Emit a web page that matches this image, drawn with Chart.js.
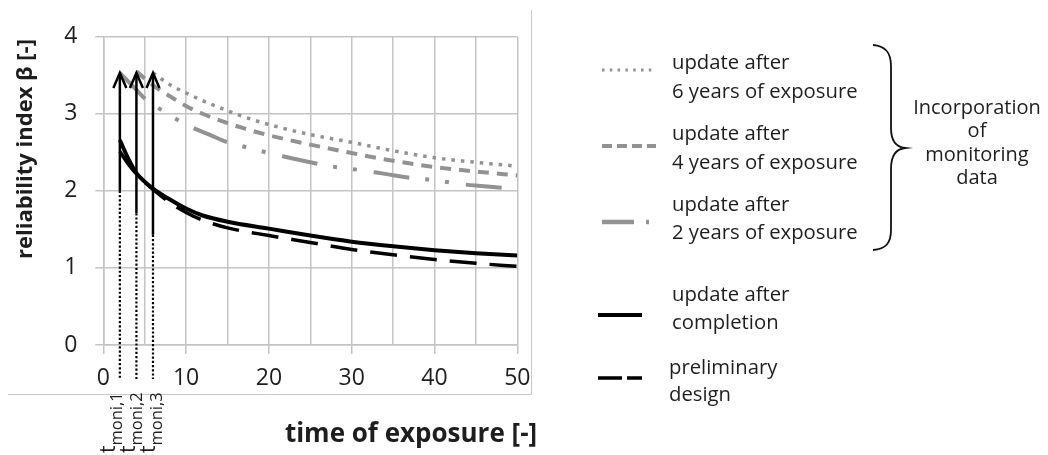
<!DOCTYPE html>
<html>
<head>
<meta charset="utf-8">
<script src="https://cdn.jsdelivr.net/npm/chart.js@4.4.1/dist/chart.umd.min.js"></script>
<style>
html, body { margin: 0; padding: 0; background: #fff; }
canvas { display: block; }
</style>
</head>
<body>
<canvas id="reliabilityChart" width="1048" height="455"></canvas>
<script>
/* data */

const tPrelim = [2, 3, 4, 5, 6, 8, 10, 12, 15, 20, 25, 30, 35, 40, 45, 50];
const betaPrelim = [2.51, 2.35, 2.22, 2.11, 2.02, 1.85, 1.72, 1.62, 1.52, 1.42, 1.33, 1.24, 1.17, 1.11, 1.06, 1.02];

const tCompletion = [2, 3, 4, 5, 6, 8, 10, 12, 15, 20, 25, 30, 35, 40, 45, 50];
const betaCompletion = [2.66, 2.42, 2.23, 2.12, 2.03, 1.89, 1.77, 1.68, 1.6, 1.51, 1.42, 1.34, 1.28, 1.23, 1.19, 1.16];

const tUpdate2 = [2, 3, 4, 5, 7, 9, 11, 13, 15, 17.5, 20, 22.5, 25, 28, 31, 34, 37, 40, 43, 46, 50];
const betaUpdate2 = [3.53, 3.42, 3.31, 3.2, 3.05, 2.92, 2.81, 2.72, 2.63, 2.56, 2.49, 2.43, 2.37, 2.31, 2.27, 2.22, 2.17, 2.14, 2.09, 2.06, 2.02];

const tUpdate4 = [4, 6, 8, 10, 12, 15, 17, 20, 25, 30, 35, 40, 45, 50];
const betaUpdate4 = [3.55, 3.37, 3.23, 3.1, 3.0, 2.88, 2.81, 2.72, 2.6, 2.49, 2.39, 2.31, 2.25, 2.2];

const tUpdate6 = [6, 8, 10, 12, 15, 17, 20, 25, 30, 35, 40, 45, 50];
const betaUpdate6 = [3.53, 3.38, 3.27, 3.17, 3.04, 2.96, 2.86, 2.73, 2.63, 2.52, 2.43, 2.37, 2.32];

// monitoring times and the arrows drawn at them
const tMoni = [2, 4, 6];
const moniLabels = ["moni,1", "moni,2", "moni,3"];
const arrowBase = [2.0, 1.71, 1.43];
const arrowTop = 3.53;
const dottedEnd = -0.44;

const xTicks = [0, 10, 20, 30, 40, 50];
const yTicks = [0, 1, 2, 3, 4];


const FONT = "'Open Sans', Lato, sans-serif";
const GRID = "#c4c4c4";
const GREY = "#929292";
const TEXT = "#1e1e1e";

function pts(ts, bs) {
return ts.map(function (t, i) { return { x: t, y: bs[i] }; });
}

/* legend rows: line sample and two text lines */
const legendRows = [
{ y: 70, x0: 602, x1: 654, dash: [2.5, 5.3], width: 3, tx: 672, ty: [63, 92] },
{ y: 146, x0: 602, x1: 656, dash: [10, 5], width: 4, tx: 672, ty: [134, 163] },
{ y: 222, x0: 602, x1: 650, dash: [32, 12, 3, 20], width: 4.5, tx: 672, ty: [205, 233] },
{ y: 315, x0: 598, x1: 642, dash: [], width: 4, tx: 672, ty: [295, 323] },
{ y: 378, x0: 598, x1: 642, dash: [24, 5], width: 3.5, tx: 669, ty: [368, 395] }
];

const labelX = [115, 135, 155];

const decorations = {
id: "decorations",
beforeDraw(chart) {
const ctx = chart.ctx;
ctx.save();
ctx.fillStyle = "#fff";
ctx.fillRect(0, 0, chart.width, chart.height);
// frame of the cropped figure
ctx.strokeStyle = "#c8c8c8";
ctx.lineWidth = 1;
ctx.beginPath();
ctx.moveTo(8, 394.5);
ctx.lineTo(531.5, 394.5);
ctx.lineTo(531.5, 10);
ctx.stroke();
ctx.restore();
},
afterDatasetsDraw(chart) {
const ctx = chart.ctx;
const x = chart.scales.x;
const y = chart.scales.y;
ctx.save();
ctx.strokeStyle = "#000";
tMoni.forEach(function (t, i) {
const px = x.getPixelForValue(t);
const yTop = y.getPixelForValue(arrowTop);
const yBase = y.getPixelForValue(arrowBase[i]);
const yEnd = y.getPixelForValue(dottedEnd);
ctx.setLineDash([]);
ctx.lineWidth = 2.5;
ctx.beginPath();
ctx.moveTo(px, yBase);
ctx.lineTo(px, yTop + 2);
ctx.stroke();
ctx.beginPath();
ctx.moveTo(px - 6.5, yTop + 15);
ctx.lineTo(px, yTop);
ctx.lineTo(px + 6.5, yTop + 15);
ctx.stroke();
ctx.setLineDash([2.2, 2]);
ctx.lineWidth = 2.2;
ctx.beginPath();
ctx.moveTo(px, yBase);
ctx.lineTo(px, yEnd);
ctx.stroke();
});
ctx.restore();
},
afterDraw(chart) {
const ctx = chart.ctx;
ctx.save();
ctx.fillStyle = TEXT;

// axis titles
ctx.font = "bold 22px " + FONT;
ctx.textAlign = "center";
ctx.textBaseline = "middle";
ctx.save();
ctx.translate(26, 149);
ctx.rotate(-Math.PI / 2);
ctx.fillText("reliability index \u03b2 [-]", 0, 0);
ctx.restore();
ctx.font = "bold 26px " + FONT;
ctx.fillText("time of exposure [-]", 411, 435);

// t_moni labels, rotated
tMoni.forEach(function (t, i) {
ctx.save();
ctx.translate(labelX[i], 453);
ctx.rotate(-Math.PI / 2);
ctx.textAlign = "left";
ctx.textBaseline = "alphabetic";
ctx.font = "21px " + FONT;
ctx.fillText("t", 0, 0);
const w = ctx.measureText("t").width;
ctx.font = "16.5px " + FONT;
ctx.fillText(moniLabels[i], w, 6.5);
ctx.restore();
});

// legend
const sets = chart.data.datasets;
legendRows.forEach(function (row, i) {
const ds = sets[i];
ctx.strokeStyle = ds.borderColor;
ctx.lineWidth = row.width;
ctx.setLineDash(row.dash);
ctx.beginPath();
ctx.moveTo(row.x0, row.y);
ctx.lineTo(row.x1, row.y);
ctx.stroke();
ctx.setLineDash([]);
ctx.font = "20.3px " + FONT;
ctx.textAlign = "left";
ctx.textBaseline = "middle";
ds.label.split("\n").forEach(function (line, k) {
ctx.fillText(line, row.tx, row.ty[k]);
});
});

// brace
ctx.strokeStyle = "#111";
ctx.lineWidth = 1.8;
ctx.beginPath();
ctx.moveTo(873, 45);
ctx.bezierCurveTo(886, 46, 891, 53, 891, 66);
ctx.lineTo(891, 128);
ctx.bezierCurveTo(891, 141, 896, 147, 905, 148);
ctx.bezierCurveTo(896, 149, 891, 156, 891, 169);
ctx.lineTo(891, 230);
ctx.bezierCurveTo(891, 243, 886, 249, 873, 250);
ctx.stroke();

ctx.font = "20px " + FONT;
ctx.textAlign = "center";
["Incorporation", "of", "monitoring", "data"].forEach(function (line, k) {
ctx.fillText(line, 977, 108 + k * 23.5);
});
ctx.restore();
}
};

const canvas = document.getElementById("reliabilityChart");

new Chart(canvas.getContext("2d"), {

type: "line",

data: {

datasets: [
{
label: "update after\n6 years of exposure",
data: pts(tUpdate6, betaUpdate6),
borderColor: GREY,
borderWidth: 3.5,
borderDash: [3.5, 6]
},
{
label: "update after\n4 years of exposure",
data: pts(tUpdate4, betaUpdate4),
borderColor: GREY,
borderWidth: 4,
borderDash: [11, 8]
},
{
label: "update after\n2 years of exposure",
data: pts(tUpdate2, betaUpdate2),
borderColor: GREY,
borderWidth: 4,
borderDash: [36, 16, 4, 16, 4, 17]
},
{
label: "update after\ncompletion",
data: pts(tCompletion, betaCompletion),
borderColor: "#000",
borderWidth: 4
},
{
label: "preliminary\ndesign",
data: pts(tPrelim, betaPrelim),
borderColor: "#000",
borderWidth: 3.5,
borderDash: [27, 13]
}
]

},

options: {

responsive: false,
animation: false,
events: [],

elements: {
point: { radius: 0 },
line: { cubicInterpolationMode: "monotone", fill: false }
},

layout: {
padding: { left: 8.3, right: 530.7, top: 36.7, bottom: 60 }
},

plugins: {
legend: { display: false },
tooltip: { enabled: false }
},

scales: {
x: {
type: "linear",
min: 0,
max: 50,
afterBuildTicks: function (s) {
const t = [];
for (let v = 0; v <= 50; v += 5) t.push({ value: v });
s.ticks = t;
},
ticks: {
autoSkip: false,
maxRotation: 0,
padding: 11,
color: TEXT,
font: { family: FONT, size: 23 },
callback: function (v) { return xTicks.indexOf(v) >= 0 ? String(v) : ""; }
},
grid: {
color: GRID,
lineWidth: 1.5,
tickLength: 9,
tickColor: function (c) { return c.tick && xTicks.indexOf(c.tick.value) >= 0 ? GRID : "rgba(0,0,0,0)"; }
},
border: { color: GRID, width: 1.5 },
afterFit: function (s) { s.height = 50; }
},
y: {
min: 0,
max: 4,
afterBuildTicks: function (s) {
s.ticks = yTicks.map(function (v) { return { value: v }; });
},
ticks: {
padding: 18,
color: TEXT,
font: { family: FONT, size: 23 }
},
grid: {
color: GRID,
lineWidth: 1.5,
tickLength: 8
},
border: { color: GRID, width: 1.5 },
afterFit: function (s) { s.width = 95; }
}
}

},

plugins: [decorations]

});
</script>
</body>
</html>
